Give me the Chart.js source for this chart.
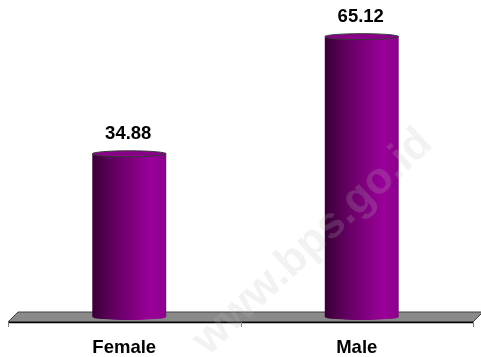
<!DOCTYPE html>
<html>
<head>
<meta charset="utf-8">
<script src="https://cdn.jsdelivr.net/npm/chart.js@4/dist/chart.umd.min.js"></script>
<style>
    html, body { margin: 0; padding: 0; background: #ffffff; }
    #wrap { width: 481px; height: 357px; }
</style>
</head>
<body>
<div id="wrap"><canvas id="chart"></canvas></div>
<script>
// Data
const categories = ['Female', 'Male'];
const values = [34.88, 65.12];

// hidden value axis (3D floor sits a bit below zero)
const axisMin = -7.25;
const axisMax = 72;

const DEPTH = 10;
const FONT = '"Liberation Sans", Arial, sans-serif';

// Floor, cylinders, value labels, watermark
const cylinderPlugin = {
    id: 'cylinders',
    beforeDatasetsDraw(chart) {
        const { ctx, chartArea, scales } = chart;
        const x = scales.x;
        const yb = chartArea.bottom + DEPTH / 2;
        ctx.save();
        // floor
        ctx.beginPath();
        ctx.moveTo(x.left, yb);
        ctx.lineTo(x.left + DEPTH, yb - DEPTH);
        ctx.lineTo(x.right + DEPTH, yb - DEPTH);
        ctx.lineTo(x.right, yb);
        ctx.closePath();
        ctx.fillStyle = '#8a8a8a';
        ctx.fill();
        ctx.strokeStyle = '#404040';
        ctx.lineWidth = 1;
        ctx.stroke();
        ctx.beginPath();
        ctx.moveTo(x.left, yb + 0.5);
        ctx.lineTo(x.right, yb + 0.5);
        ctx.strokeStyle = '#000000';
        ctx.lineWidth = 1.5;
        ctx.stroke();
        // category ticks
        ctx.strokeStyle = '#808080';
        ctx.lineWidth = 1;
        const step = (x.right - x.left) / categories.length;
        for (let i = 0; i <= categories.length; i++) {
            const tx = Math.round(x.left + step * i) + 0.5;
            ctx.beginPath();
            ctx.moveTo(tx, yb);
            ctx.lineTo(tx, yb + 5);
            ctx.stroke();
        }
        ctx.restore();
    },
    afterDatasetsDraw(chart) {
        const { ctx } = chart;
        const meta = chart.getDatasetMeta(0);
        ctx.save();
        meta.data.forEach((bar, i) => {
            const cx = bar.x + DEPTH / 2;
            const w = bar.width;
            const left = cx - w / 2;
            const right = cx + w / 2;
            const top = bar.y;
            const bottom = bar.base;
            const ry = 3;

            const grad = ctx.createLinearGradient(left, 0, right, 0);
            grad.addColorStop(0, '#380036');
            grad.addColorStop(0.35, '#6a0068');
            grad.addColorStop(0.8, '#9a009a');
            grad.addColorStop(1, '#8c008c');

            // body with rounded bottom
            ctx.beginPath();
            ctx.moveTo(left, top);
            ctx.lineTo(left, bottom);
            ctx.ellipse(cx, bottom, w / 2, ry, 0, Math.PI, 0, true);
            ctx.lineTo(right, top);
            ctx.closePath();
            ctx.fillStyle = grad;
            ctx.fill();

            // top cap
            ctx.beginPath();
            ctx.ellipse(cx, top, w / 2, ry, 0, 0, Math.PI * 2);
            ctx.fillStyle = '#880088';
            ctx.fill();
            ctx.strokeStyle = '#3a3a3a';
            ctx.lineWidth = 1;
            ctx.stroke();

            // value label
            ctx.fillStyle = '#000000';
            ctx.font = 'bold 18.5px ' + FONT;
            ctx.textAlign = 'center';
            ctx.textBaseline = 'middle';
            ctx.fillText(values[i].toFixed(2), cx - 1, top - 20);
        });

        // watermark
        ctx.translate(313, 242);
        ctx.rotate(-0.75);
        ctx.font = 'bold 44px ' + FONT;
        ctx.textAlign = 'center';
        ctx.textBaseline = 'middle';
        ctx.fillStyle = 'rgba(190, 190, 190, 0.2)';
        ctx.fillText('www.bps.go.id', 0, 0);
        ctx.restore();
    }
};

const chart = new Chart(document.getElementById('chart'), {
    type: 'bar',
    data: {
        labels: categories,
        datasets: [{
            data: values,
            base: axisMin,
            backgroundColor: 'rgba(0,0,0,0)',
            borderWidth: 0,
            barPercentage: 0.318,
            categoryPercentage: 1.0
        }]
    },
    options: {
        responsive: true,
        maintainAspectRatio: false,
        animation: false,
        layout: {
            padding: { left: 8, right: 8, top: 10, bottom: 0 }
        },
        scales: {
            y: {
                display: false,
                min: axisMin,
                max: axisMax
            },
            x: {
                grid: { display: false, drawTicks: false },
                border: { display: false },
                afterFit(scale) { scale.height = 40; },
                ticks: {
                    color: '#000000',
                    padding: 20,
                    font: { family: FONT, size: 18.5, weight: 'bold' }
                }
            }
        },
        plugins: {
            legend: { display: false },
            tooltip: { enabled: false },
            title: { display: false }
        }
    },
    plugins: [cylinderPlugin]
});
</script>
</body>
</html>
